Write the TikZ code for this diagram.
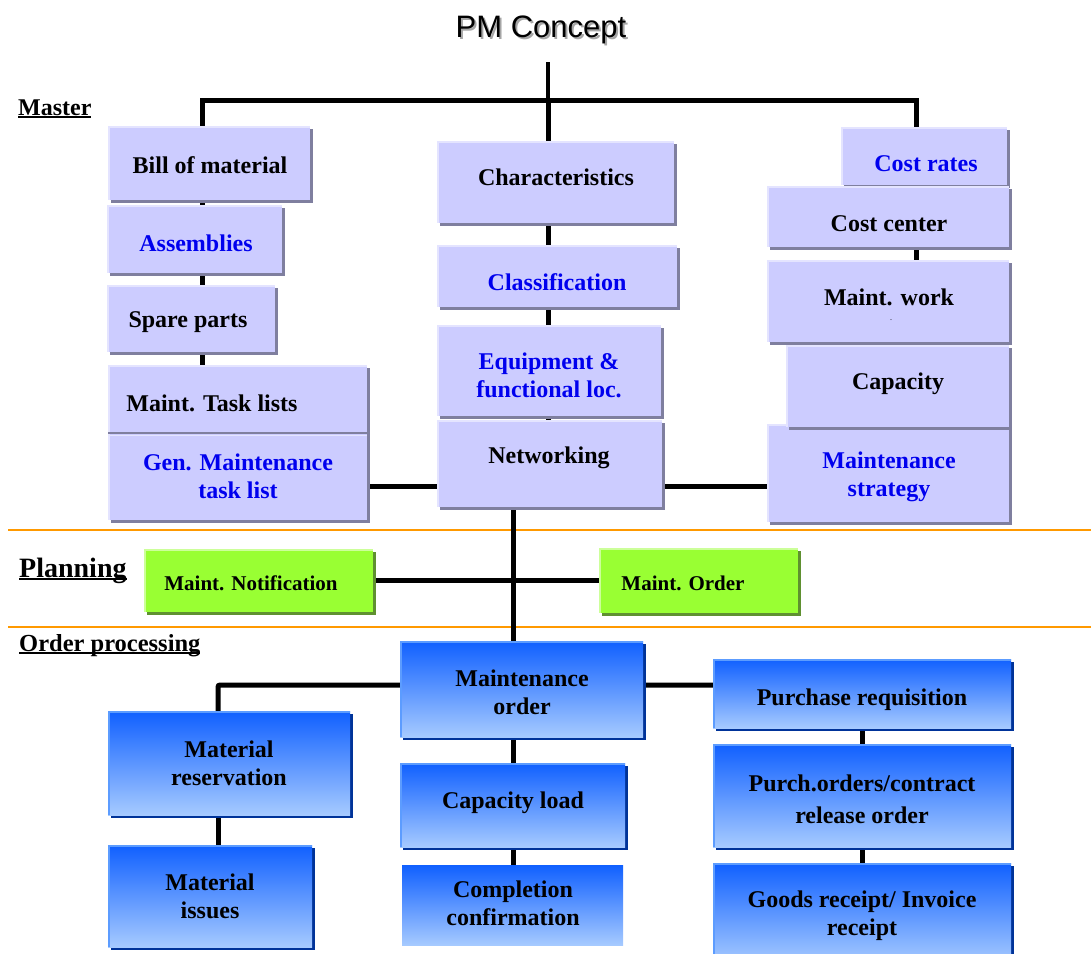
\documentclass[tikz,border=0pt]{standalone}
\usepackage{fontspec}
\setmainfont{Liberation Serif}
\newfontfamily\titlefont{Liberation Sans}
\usetikzlibrary{shadows,backgrounds}

\definecolor{lavfill}{HTML}{CCCCFF}
\definecolor{lavshadow}{HTML}{7F7F9F}
\definecolor{lavlight}{HTML}{E4E4FF}
\definecolor{bluetext}{HTML}{0000EE}
\definecolor{greenfill}{HTML}{99FF33}
\definecolor{greenlight}{HTML}{CCFF99}
\definecolor{greenshadow}{HTML}{5F9030}
\definecolor{bluetop}{HTML}{1060FF}
\definecolor{bluebot}{HTML}{A6CAFF}
\definecolor{blueshadow}{HTML}{003399}
\definecolor{blueedge}{HTML}{5C9CFF}
\definecolor{rule}{HTML}{FF9900}

% underline that sits just under the baseline
\newcommand\ulined[1]{\setbox0\hbox{#1}\rlap{\rule[-2.5pt]{\wd0}{1.6pt}}\box0}

\tikzset{
  base/.style={rectangle, inner sep=0pt, outer sep=0pt},
  sz/.style 2 args={minimum width=#1pt, minimum height=#2pt},
  edgelight/.style={path picture={\draw[#1, line width=4pt]
      (path picture bounding box.south west) -- (path picture bounding box.north west)
      -- (path picture bounding box.north east);}},
  lav/.style={base, fill=lavfill, edgelight=lavlight,
      drop shadow={shadow xshift=3pt, shadow yshift=-3pt, fill=lavshadow, opacity=1}},
  grn/.style={base, fill=greenfill, edgelight=greenlight,
      drop shadow={shadow xshift=3pt, shadow yshift=-3pt, fill=greenshadow, opacity=1}},
  bluflat/.style={base, top color=bluetop, bottom color=bluebot},
  blu/.style={bluflat, edgelight=blueedge,
      drop shadow={shadow xshift=3pt, shadow yshift=-3pt, fill=blueshadow, opacity=1}},
  txt/.style={inner sep=0pt, yshift=-2.5pt, align=center, font=\bfseries\fontsize{24}{28}\selectfont},
  btxt/.style={txt, text=bluetext},
  gtxt/.style={inner sep=0pt, yshift=-1pt, font=\bfseries\fontsize{21}{25}\selectfont},
  sect/.style={inner sep=0pt, yshift=-2.5pt, anchor=west, font=\bfseries\fontsize{24.5}{28}\selectfont},
  conn/.style={line width=5pt, black},
  stemline/.style={line width=4pt, black},
  sepline/.style={line width=2pt, rule},
}

\begin{document}
\begin{tikzpicture}[x=1pt, y=-1pt]
\useasboundingbox (0,0) rectangle (1091,953);

% title
\node[inner sep=0pt, text=black!35, font=\titlefont\fontsize{31}{36}\selectfont] (title-sh) at (543,32) {PM Concept};
\node[inner sep=0pt, font=\titlefont\fontsize{31}{36}\selectfont] (title) at (541,30) {PM Concept};

% section headings
\node[sect, font=\bfseries\fontsize{24}{28}\selectfont] (lbl-master) at (18,106) {\ulined{Master}};
\node[sect, font=\bfseries\fontsize{28}{32}\selectfont] (lbl-plan) at (19,568) {\ulined{Planning}};
\node[sect] (lbl-order) at (19,643) {\ulined{Order processing}};

% master data, left column
\node[lav, sz={202}{74}] (bom) at (209,163) {};
\node[lav, sz={175}{68}] (asm) at (194.5,239) {};
\node[lav, sz={168}{67}] (spare) at (191,318.5) {};
\node[lav, sz={259}{155}] (task) at (237.5,442.5) {};
\draw[lavshadow, line width=2pt] (task.west |- 0,433) -- (task.east |- 0,433);
\draw[lavlight, line width=1pt] (task.west |- 0,435) -- (task.east |- 0,435);

% master data, middle column
\node[lav, sz={237}{82}] (chars) at (555.5,182) {};
\node[lav, sz={240}{62}] (class) at (557,276) {};
\node[lav, sz={224}{91}] (equip) at (549,370.5) {};
\node[lav, sz={225}{87}] (net) at (549.5,463.5) {};

% master data, right column
\node[lav, sz={166}{58}] (crates) at (924,156) {};
\node[lav, sz={242}{61}] (ccenter) at (888,216.5) {};
\node[lav, sz={242}{82}] (mwork) at (888,301) {};
\node[lav, sz={242}{98}] (mstrat) at (888,473) {};
\node[lav, sz={223}{82}] (capac) at (897.5,386) {};

% planning
\node[grn, sz={229}{63}] (notif) at (258.5,580.5) {};
\node[grn, sz={199}{65}] (morder) at (698.5,580.5) {};

% order processing
\node[blu, sz={243}{96}] (mo) at (521.5,689) {};
\node[blu, sz={225}{84}] (cload) at (512.5,805) {};
\node[bluflat, sz={221}{80}] (compl) at (512.5,905) {};
\node[blu, sz={242}{104}] (mres) at (229,763) {};
\node[blu, sz={204}{102}] (miss) at (210,896) {};
\node[blu, sz={298}{69}] (preq) at (862,693.5) {};
\node[blu, sz={298}{103}] (porder) at (862,795.5) {};
\node[blu, sz={298}{100}] (goods) at (862,913) {};

% box texts
\node[txt] (t-bom) at (210,163) {Bill of material};
\node[btxt] (t-asm) at (196,241) {Assemblies};
\node[txt] (t-spare) at (188,320) {Spare parts};
\node[txt] (t-task) at (212,401) {Maint. Task lists};
\node[btxt] (t-gen) at (238,474) {Gen. Maintenance\\task list};
\node[txt] (t-chars) at (556,175) {Characteristics};
\node[btxt] (t-class) at (557,280) {Classification};
\node[btxt] (t-equip) at (549,373) {Equipment \&\\functional loc.};
\node[txt] (t-net) at (549,455) {Networking};
\node[btxt] (t-crates) at (926,161) {Cost rates};
\node[txt] (t-ccenter) at (889,221) {Cost center};
\node[txt] (t-mwork) at (889,295) {Maint. work};
\node[inner sep=0pt, font=\fontsize{8}{8}\selectfont] (t-dot) at (891,320) {.};
\node[txt] (t-capac) at (898,381) {Capacity};
\node[btxt] (t-mstrat) at (889,474) {Maintenance\\strategy};
\node[gtxt] (t-notif) at (251,582) {Maint. Notification};
\node[gtxt] (t-morder) at (683,582) {Maint. Order};
\node[txt] (t-mo) at (522,690) {Maintenance\\order};
\node[txt] (t-cload) at (513,800) {Capacity load};
\node[txt] (t-compl) at (513,901) {Completion\\confirmation};
\node[txt] (t-mres) at (229,761) {Material\\reservation};
\node[txt] (t-miss) at (210,894) {Material\\issues};
\node[txt] (t-preq) at (862,697) {Purchase requisition};
\node[txt, font=\bfseries\fontsize{24}{32}\selectfont] (t-porder) at (862,797) {Purch.orders/contract\\release order};
\node[txt] (t-goods) at (862,913) {Goods receipt/ Invoice\\receipt};

% connector anchors
\coordinate (stem) at (548,62);
\coordinate (hub) at (548,100);
\coordinate (lx) at (202,0);
\coordinate (rx) at (916,0);
\coordinate (ny) at (0,486);
\coordinate (px) at (513,0);
\coordinate (mx) at (218,0);
\coordinate (oy) at (0,685);

\begin{pgfonlayer}{background}
  \draw[sepline] (8,530) -- (1091,530);
  \draw[sepline] (8,627) -- (1091,627);
  \draw[stemline] (stem) -- (hub);
  \draw[conn] (lx |- bom.north) |- (hub) -| (rx |- crates.north);
  \draw[conn] (lx |- bom.south) -- (lx |- task.north);
  \draw[conn] (rx |- crates.south) -- (rx |- mstrat.north);
  \draw[conn] (hub) -- (hub |- net.north);
  \draw[conn] (task.east |- ny) -- (mstrat.west |- ny);
  \draw[conn] (px |- net.south) -- (px |- mo.north);
  \draw[conn] (notif.east) -- (notif.east -| morder.west);
  \draw[conn, rounded corners=2pt] (mx |- mres.north) |- (preq.west |- oy);
  \draw[conn] (mx |- mres.south) -- (mx |- miss.north);
  \draw[conn] (px |- mo.south) -- (px |- compl.north);
  \draw[conn] (preq.south) -- (goods.north);
\end{pgfonlayer}
\end{tikzpicture}
\end{document}
